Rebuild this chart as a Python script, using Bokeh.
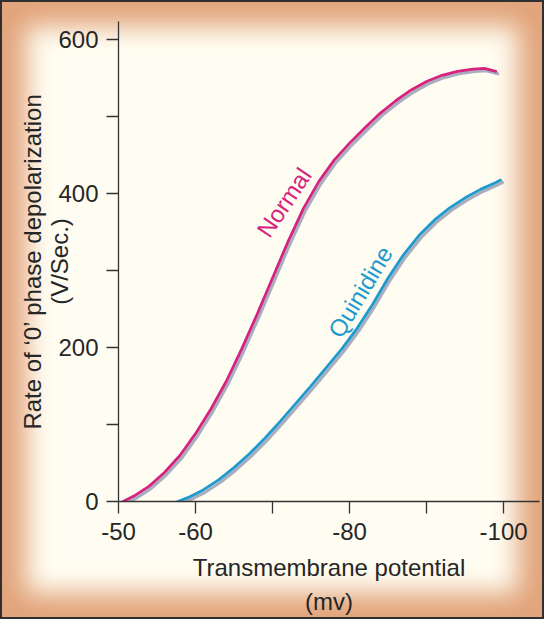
import math
from bokeh.plotting import figure
from bokeh.models import Range1d, FixedTicker, Label
from bokeh.embed import file_html
from bokeh.resources import INLINE

# ---- data ----
normal_x = [-50.6, -52, -54, -56, -58, -60, -62, -64, -66, -68, -70, -72, -74, -76,
            -78, -80, -82, -84, -86, -88, -90, -92, -94, -96, -97.5, -99]
normal_y = [0, 7, 20, 38, 60, 88, 120, 156, 198, 243, 290, 337, 380, 415,
            443, 465, 485, 504, 520, 534, 545, 553, 558, 561, 562, 558]

quin_x = [-57.7, -59, -61, -63, -65, -67, -69, -71, -73, -75, -77, -79, -81, -83,
          -85, -87, -89, -91, -93, -95, -97, -99, -99.6]
quin_y = [0, 5, 15, 28, 44, 62, 82, 104, 127, 150, 174, 198, 225, 256,
          290, 320, 345, 365, 381, 394, 405, 414, 417]

x_ticks = [-50, -60, -70, -80, -90, -100]
x_tick_labels = {-50: "-50", -60: "-60", -70: "", -80: "-80", -90: "", -100: "-100"}
y_ticks = [0, 100, 200, 300, 400, 500, 600]
y_tick_labels = {0: "0", 100: "", 200: "200", 300: "", 400: "400", 500: "", 600: "600"}

series_names = ["Normal", "Quinidine"]
y_title = "Rate of \u20180\u2019 phase depolarization\n(V/Sec.)"
x_title = "Transmembrane potential\n(mv)"

FONT = "Liberation Sans"
MAGENTA = "#D6237F"
BLUE = "#1E9ACF"
SHADOW = "#A9AEBE"
INK = "#262626"

p = figure(width=544, height=619, output_backend="svg", toolbar_location=None,
           x_range=Range1d(-50, -104.66), y_range=Range1d(0, 622.8),
           min_border_left=118, min_border_right=5, min_border_top=21,
           min_border_bottom=118)

p.styles = {
    "background-color": "#FFFDF2",
    "box-shadow": "inset 0 0 0 2px #2f2f2f, inset 0 0 26px 26px #E2A47B",
}
p.border_fill_alpha = 0
p.background_fill_alpha = 0
p.outline_line_color = None
p.xgrid.visible = False
p.ygrid.visible = False

for ax in (p.xaxis[0], p.yaxis[0]):
    ax.axis_line_color = "#333333"
    ax.axis_line_width = 1.3
    ax.major_tick_line_color = "#333333"
    ax.major_tick_line_width = 1.3
    ax.major_tick_out = 12
    ax.major_tick_in = 0
    ax.minor_tick_line_color = None
    ax.major_label_text_font = FONT
    ax.major_label_text_font_size = "24px"
    ax.major_label_text_color = INK
    ax.axis_label_text_font = FONT
    ax.axis_label_text_font_size = "24px"
    ax.axis_label_text_font_style = "normal"
    ax.axis_label_text_color = INK

p.xaxis[0].ticker = FixedTicker(ticks=x_ticks)
p.xaxis[0].major_label_overrides = x_tick_labels
p.xaxis[0].major_label_standoff = 9
p.xaxis[0].axis_label = x_title
p.xaxis[0].axis_label_standoff = 11
p.xaxis[0].axis_label_text_line_height = 1.29

p.yaxis[0].ticker = FixedTicker(ticks=y_ticks)
p.yaxis[0].major_label_overrides = y_tick_labels
p.yaxis[0].major_label_standoff = 8
p.yaxis[0].axis_label = y_title
p.yaxis[0].axis_label_standoff = -18
p.yaxis[0].axis_label_text_line_height = 1.0

# shadows (slightly offset down/right) then the coloured curves
p.line([v - 0.25 for v in normal_x], [v - 3 for v in normal_y],
       line_color=SHADOW, line_width=3.2, line_cap="round")
p.line([v - 0.25 for v in quin_x], [v - 3 for v in quin_y],
       line_color=SHADOW, line_width=3.2, line_cap="round")
p.line(normal_x, normal_y, line_color=MAGENTA, line_width=2.8, line_cap="round")
p.line(quin_x, quin_y, line_color=BLUE, line_width=2.8, line_cap="round")

# curve names
p.add_layout(Label(x=-71.5, y=388, text=series_names[0], angle=math.radians(56),
                   text_align="center", text_baseline="middle",
                   text_font=FONT, text_font_size="24px", text_color=MAGENTA))
p.add_layout(Label(x=-81.4, y=272, text=series_names[1], angle=math.radians(59),
                   text_align="center", text_baseline="middle",
                   text_font=FONT, text_font_size="24px", text_color=BLUE))

open("out.html", "w").write(file_html(p, INLINE))
